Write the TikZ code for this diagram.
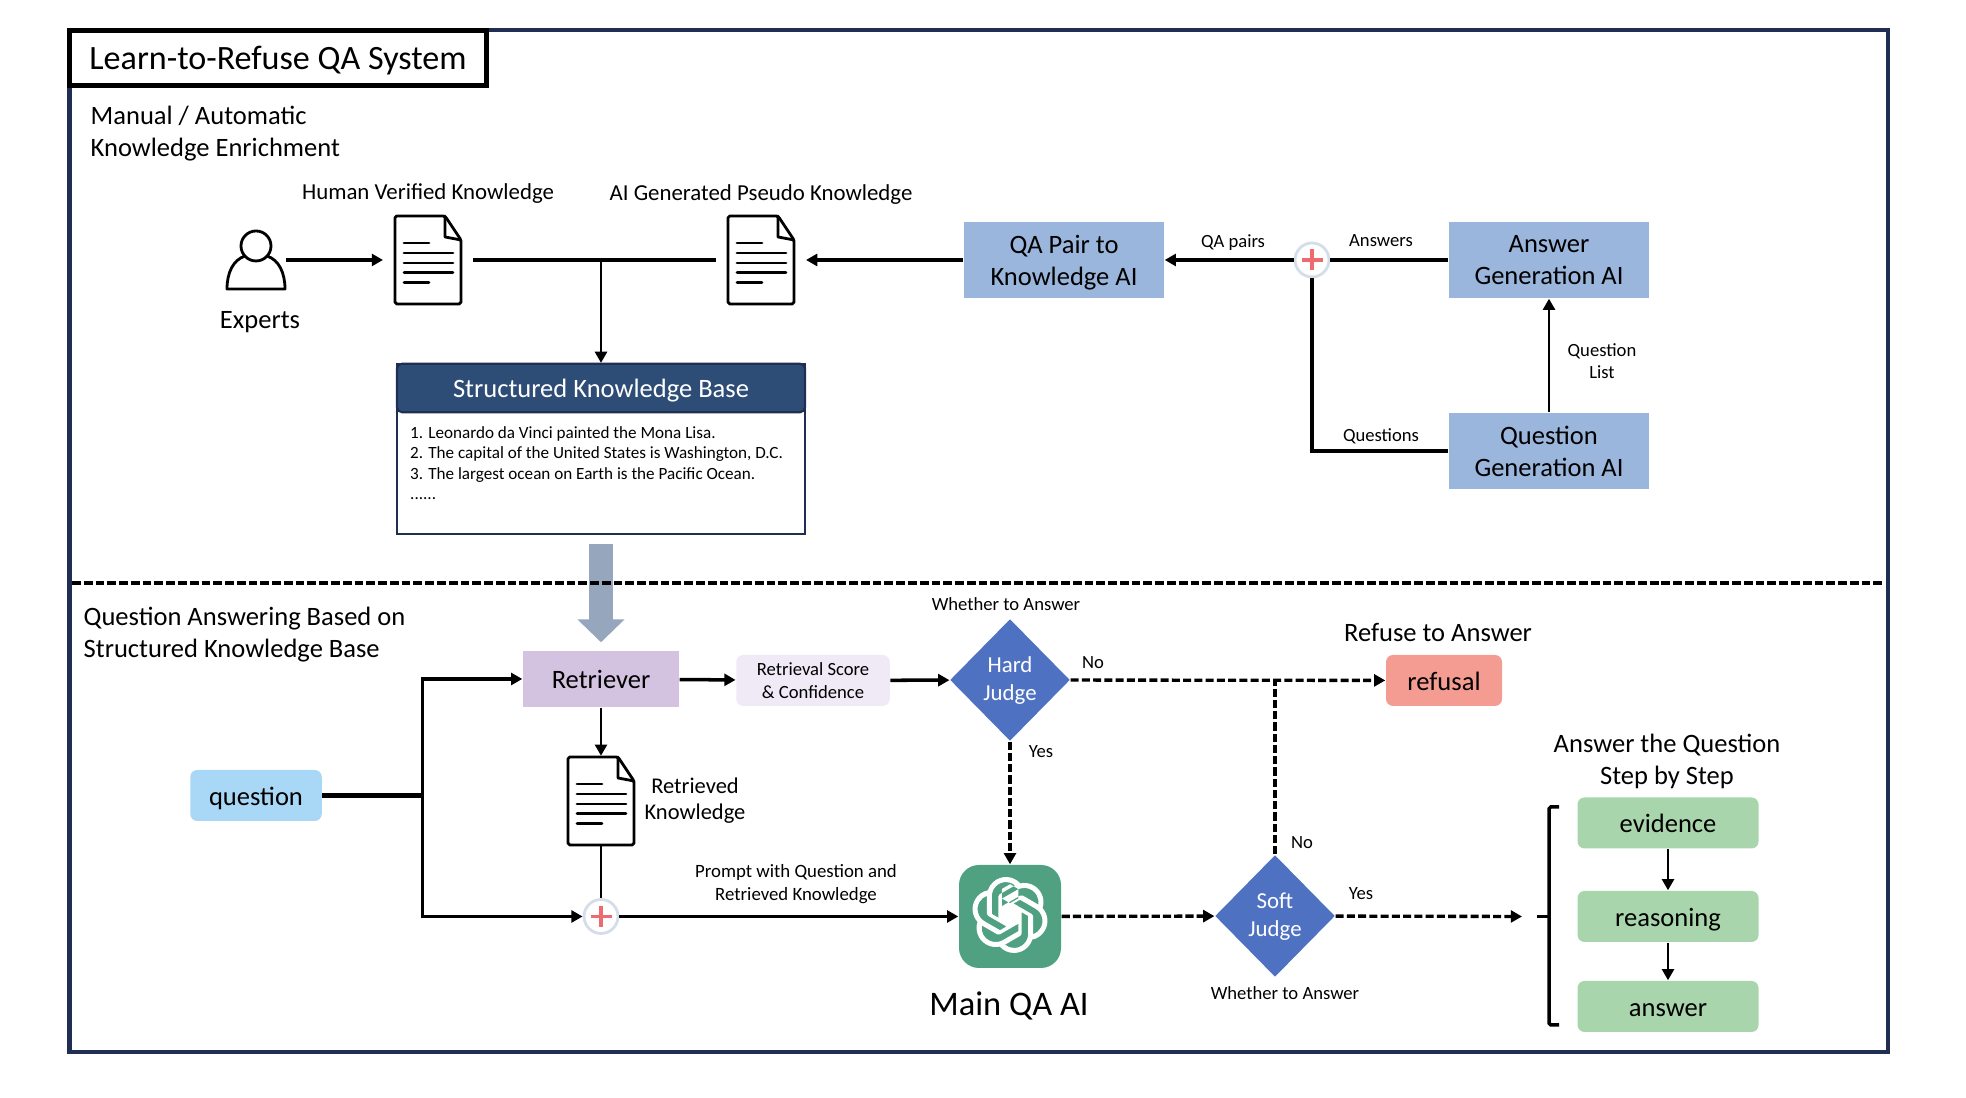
\documentclass[tikz,border=0pt]{standalone}
\usepackage{fontspec}
\setmainfont{Carlito}
\usetikzlibrary{arrows.meta, shapes.geometric, svg.path}
\definecolor{framenavy}{HTML}{1F2E52}
\definecolor{kbblue}{HTML}{2E4D76}
\definecolor{aiblue}{HTML}{9AB6DC}
\definecolor{judgeblue}{HTML}{4E71C2}
\definecolor{retrievepurple}{HTML}{D3C3E0}
\definecolor{scorepurple}{HTML}{EFEAF6}
\definecolor{refusered}{HTML}{F49C92}
\definecolor{stepgreen}{HTML}{A8D5AB}
\definecolor{questionblue}{HTML}{A9D7F6}
\definecolor{mainteal}{HTML}{4FA182}
\definecolor{plusred}{HTML}{EE6A6F}
\definecolor{plusrim}{HTML}{D5DEE8}
\definecolor{bigarrow}{HTML}{96A6BD}
\newcommand{\docicon}[2]{
    \node[docnode] (#1) at (#2) {};
    \begin{scope}[shift={(#2)}]
        \draw[docline, rounded corners=0.5pt, fill=white] (-0.33, -0.44) -- (-0.33, 0.44) -- (0.17, 0.44) -- (0.33, 0.2) -- (0.33, -0.44) -- cycle;
        \draw[docline] (0.17, 0.44) -- (0.17, 0.23) -- (0.33, 0.2);
        \draw[docline] (-0.24, 0.17) -- (0.01, 0.17);
        \draw[docline] (-0.24, 0.07) -- (0.25, 0.07);
        \draw[docline] (-0.24, -0.03) -- (0.25, -0.03);
        \draw[docline] (-0.24, -0.125) -- (0.25, -0.125);
        \draw[docline] (-0.24, -0.225) -- (0.01, -0.225);
    \end{scope}
}
\begin{document}
\begin{tikzpicture}
    \tikzstyle{bigtext} = [font=\fontsize{7.55}{9.1}\selectfont, align=center, inner sep=0pt]
    \tikzstyle{smalltext} = [font=\fontsize{5.3}{6.4}\selectfont, align=center, inner sep=0pt]
    \tikzstyle{midtext} = [font=\fontsize{6.5}{7.8}\selectfont, align=center, inner sep=0pt]
    \tikzstyle{oneline} = [text height=5.6pt, text depth=0pt]
    \tikzstyle{docnode} = [minimum width=0.66cm, minimum height=0.89cm, inner sep=0pt, outer xsep=0.12cm]
    \tikzstyle{docline} = [line width=0.8pt, line cap=round, line join=round]
    \tikzstyle{aibox} = [bigtext, text depth=-1pt, fill=aiblue, minimum width=2cm, minimum height=0.76cm]
    \tikzstyle{softbox} = [bigtext, rounded corners=0.07cm, minimum height=0.51cm]
    \tikzstyle{stepbox} = [softbox, oneline, fill=stepgreen, minimum width=1.81cm]
    \tikzstyle{judge} = [diamond, fill=judgeblue, text=white, midtext, text depth=0.7pt, minimum width=1.2cm, minimum height=1.22cm]
    \tikzstyle{plus} = [circle, draw=plusrim, fill=white, line width=0.8pt, minimum size=0.34cm, inner sep=0pt, path picture={
        \draw[plusred, line width=0.9pt] (path picture bounding box.center) +(-0.105, 0) -- +(0.105, 0) +(0, -0.105) -- +(0, 0.105);}]
    \tikzstyle{thinflow} = [line width=0.8pt, >={Triangle[length=3.2pt, width=3.4pt]}]
    \tikzstyle{midflow} = [line width=1pt, >={Triangle[length=3.2pt, width=3.4pt]}]
    \tikzstyle{thickflow} = [line width=1.4pt]
    \tikzstyle{dashflow} = [line width=0.95pt, dash pattern=on 2.3pt off 0.9pt, >={Triangle[length=3.2pt, width=3.4pt]}]
    \useasboundingbox (0, 0) rectangle (19.66, 10.98);
    \draw[framenavy, line width=1.25pt] (0.695, 0.46) rectangle (18.88, 10.68);
    \node[bigtext, draw=black, fill=white, line width=1.4pt, text depth=0pt, font=\fontsize{9.7}{11}\selectfont, minimum width=4.175cm, minimum height=0.555cm] (title) at (2.78, 10.4) {Learn-to-Refuse QA System};
    \node[bigtext, anchor=west, align=left] (enrichlabel) at (0.9, 9.645) {Manual / Automatic\\Knowledge Enrichment};
    \node[midtext] (humanlabel) at (4.28, 9.04) {Human Verified Knowledge};
    \node[midtext] (pseudolabel) at (7.61, 9.03) {AI Generated Pseudo Knowledge};
    \node[minimum size=0.58cm, inner sep=0pt] (expert) at (2.56, 8.38) {};
    \draw[docline] (2.56, 8.52) ellipse[x radius=0.15, y radius=0.15];
    \draw[docline] (2.67, 8.42) .. controls (2.79, 8.38) and (2.85, 8.25) .. (2.85, 8.09) -- (2.27, 8.09) .. controls (2.27, 8.25) and (2.33, 8.38) .. (2.45, 8.42);
    \node[bigtext] (expertlabel) at (2.6, 7.76) {Experts};
    \docicon{doca}{4.28, 8.38}
    \docicon{docb}{7.61, 8.38}
    \node[aibox] (qapair) at (10.64, 8.38) {QA Pair to\\Knowledge AI};
    \node[aibox] (answergen) at (15.49, 8.38) {Answer\\Generation AI};
    \node[aibox] (questiongen) at (15.49, 6.47) {Question\\Generation AI};
    \node[plus] (plusa) at (13.12, 8.38) {};
    \node[smalltext] (qapairlabel) at (12.33, 8.55) {QA pairs};
    \node[smalltext] (answerslabel) at (13.81, 8.57) {Answers};
    \node[smalltext] (questionslabel) at (13.81, 6.62) {Questions};
    \node[smalltext] (listlabel) at (16.02, 7.37) {Question\\List};
    \node[draw=framenavy, fill=white, line width=0.6pt, minimum width=4.08cm, minimum height=1.7cm, inner sep=0pt] (kb) at (6.01, 6.49) {};
    \node[bigtext, oneline, draw=framenavy, fill=kbblue, text=white, line width=0.6pt, rounded corners=0.05cm, minimum width=4.08cm, minimum height=0.485cm] (kbhead) at (6.01, 7.1) {Structured Knowledge Base};
    \node[font=\fontsize{4.87}{5.85}\selectfont, align=left, inner sep=0pt, anchor=west] (kbfacts) at (4.095, 6.35) {1. Leonardo da Vinci painted the Mona Lisa.\\2. The capital of the United States is Washington, D.C.\\3. The largest ocean on Earth is the Pacific Ocean.\\......};
    \coordinate (splitl) at (0.72, 5.15);
    \coordinate (splitr) at (18.85, 5.15);
    \node[bigtext, anchor=west, align=left] (answeringlabel) at (0.83, 4.635) {Question Answering Based on\\Structured Knowledge Base};
    \node[bigtext, oneline, fill=retrievepurple, minimum width=1.56cm, minimum height=0.56cm] (retriever) at (6.01, 4.19) {Retriever};
    \node[softbox, smalltext, fill=scorepurple, minimum width=1.535cm] (score) at (8.13, 4.175) {Retrieval Score\\\& Confidence};
    \node[judge] (hard) at (10.1, 4.18) {Hard\\Judge};
    \node[smalltext] (hardlabel) at (10.06, 4.94) {Whether to Answer};
    \node[smalltext] (hardno) at (10.93, 4.35) {No};
    \node[smalltext] (hardyes) at (10.41, 3.46) {Yes};
    \node[bigtext] (refuselabel) at (14.38, 4.655) {Refuse to Answer};
    \node[softbox, oneline, fill=refusered, minimum width=1.16cm] (refusal) at (14.44, 4.175) {refusal};
    \node[softbox, oneline, fill=questionblue, minimum width=1.315cm] (question) at (2.56, 3.025) {question};
    \coordinate (trunk) at (4.225, 3.025);
    \docicon{docc}{6.01, 2.97}
    \node[midtext, font=\fontsize{6.4}{7.5}\selectfont] (retrievedlabel) at (6.95, 2.975) {Retrieved\\Knowledge};
    \node[smalltext, font=\fontsize{5.35}{6.4}\selectfont] (promptlabel) at (7.96, 2.14) {Prompt with Question and\\Retrieved Knowledge};
    \node[plus] (plusb) at (6.01, 1.815) {};
    \node[fill=mainteal, rounded corners=0.2cm, minimum width=1.02cm, minimum height=1.03cm, inner sep=0pt] (main) at (10.1, 1.815) {};
    \begin{scope}[shift={(10.1, 1.83)}, xscale=0.9, yscale=-0.9, shift={(-12pt, -12pt)}]
        \fill[white, even odd rule] svg {M 22.2819 9.8211 a 5.9847 5.9847 0 0 0 -0.5157 -4.9108 a 6.0462 6.0462 0 0 0 -6.5098 -2.9 A 6.0651 6.0651 0 0 0 4.9807 4.1818 a 5.9847 5.9847 0 0 0 -3.9977 2.9 a 6.0462 6.0462 0 0 0 0.7427 7.0966 a 5.98 5.98 0 0 0 0.511 4.9107 a 6.051 6.051 0 0 0 6.5146 2.9001 A 5.9847 5.9847 0 0 0 13.2599 24 a 6.0557 6.0557 0 0 0 5.7718 -4.2058 a 5.9894 5.9894 0 0 0 3.9977 -2.9001 a 6.0557 6.0557 0 0 0 -0.7475 -7.0729 z
        m -9.022 12.6081 a 4.4755 4.4755 0 0 1 -2.8764 -1.0408 l 0.1419 -0.0804 l 4.7783 -2.7582 a 0.7948 0.7948 0 0 0 0.3927 -0.6813 v -6.7369 l 2.02 1.1686 a 0.071 0.071 0 0 1 0.038 0.052 v 5.5826 a 4.504 4.504 0 0 1 -4.4945 4.4944 z
        m -9.6607 -4.1254 a 4.4708 4.4708 0 0 1 -0.5346 -3.0137 l 0.142 0.0852 l 4.783 2.7582 a 0.7712 0.7712 0 0 0 0.7806 0 l 5.8428 -3.3685 v 2.3324 a 0.0804 0.0804 0 0 1 -0.0332 0.0615 L 9.74 19.9502 a 4.4992 4.4992 0 0 1 -6.1408 -1.6464 z
        M 2.3408 7.8956 a 4.485 4.485 0 0 1 2.3655 -1.9728 V 11.6 a 0.7664 0.7664 0 0 0 0.3879 0.6765 l 5.8144 3.3543 l -2.0201 1.1685 a 0.0757 0.0757 0 0 1 -0.071 0 l -4.8303 -2.7865 A 4.504 4.504 0 0 1 2.3408 7.872 z
        m 16.5963 3.8558 L 13.1038 8.364 L 15.1192 7.2 a 0.0757 0.0757 0 0 1 0.071 0 l 4.8303 2.7913 a 4.4944 4.4944 0 0 1 -0.6765 8.1042 v -5.6772 a 0.79 0.79 0 0 0 -0.407 -0.667 z
        m 2.0107 -3.0231 l -0.142 -0.0852 l -4.7735 -2.7818 a 0.7759 0.7759 0 0 0 -0.7854 0 L 9.409 9.2297 V 6.8974 a 0.0662 0.0662 0 0 1 0.0284 -0.0615 l 4.8303 -2.7866 a 4.4992 4.4992 0 0 1 6.6802 4.66 z
        M 8.3065 12.863 l -2.02 -1.1638 a 0.0804 0.0804 0 0 1 -0.038 -0.0567 V 6.0742 a 4.4992 4.4992 0 0 1 7.3757 -3.4537 l -0.142 0.0805 L 8.704 5.459 a 0.7948 0.7948 0 0 0 -0.3927 0.6813 z
        m 1.0976 -2.3654 l 2.602 -1.4998 l 2.6069 1.4998 v 2.9994 l -2.5974 1.4997 l -2.6067 -1.4997 Z};
    \end{scope}
    \node[font=\fontsize{9.8}{11}\selectfont, inner sep=0pt] (mainlabel) at (10.09, 0.92) {Main QA AI};
    \node[judge] (soft) at (12.75, 1.82) {Soft\\Judge};
    \node[smalltext] (softlabel) at (12.85, 1.05) {Whether to Answer};
    \node[smalltext] (softno) at (13.02, 2.55) {No};
    \node[smalltext] (softyes) at (13.61, 2.04) {Yes};
    \node[bigtext] (steplabel) at (16.67, 3.365) {Answer the Question\\Step by Step};
    \node[stepbox] (evidence) at (16.68, 2.75) {evidence};
    \node[stepbox] (reasoning) at (16.68, 1.815) {reasoning};
    \node[stepbox] (answer) at (16.68, 0.915) {answer};
    \coordinate (steptip) at (15.22, 1.815);
    \draw[line width=1pt, rounded corners=0.5pt] (15.59, 2.91) -- (15.49, 2.91) -- (15.49, 0.73) -- (15.59, 0.73);
    \draw[line width=1pt] (15.49, 1.815) -- (15.37, 1.815);
    \draw[midflow, ->] (expert) -- (doca);
    \draw[thickflow] (doca) -- (docb);
    \draw[thinflow, ->] (kb.north |- doca) -- (kb.north);
    \draw[midflow, ->] (qapair) -- (docb);
    \draw[midflow] (answergen) -- (plusa);
    \draw[midflow, ->] (plusa) -- (qapair);
    \draw[thickflow] (questiongen) -| (plusa);
    \draw[thinflow, ->] (questiongen) -- (answergen);
    \draw[bigarrow, line width=6.7pt, shorten <=0.09cm, shorten >=0.08cm, -{Triangle[length=6.5pt, width=13pt]}] (kb) -- (retriever);
    \draw[line width=1pt, dash pattern=on 2.5pt off 0.85pt] (splitl) -- (splitr);
    \draw[thickflow] (question) -- (trunk);
    \draw[midflow, ->] (trunk) |- (retriever);
    \draw[midflow, ->] (trunk) |- (plusb);
    \draw[midflow, ->] (retriever) -- (score);
    \draw[midflow, ->] (score) -- (hard);
    \draw[thinflow, ->] (retriever) -- (docc);
    \draw[thinflow] (docc) -- (plusb);
    \draw[midflow, ->] (plusb) -- (main);
    \draw[dashflow, ->] (hard) -- (refusal);
    \draw[dashflow, ->] (hard) -- (main);
    \draw[dashflow, ->] (main) -- (soft);
    \draw[dashflow] (soft) -- (soft |- refusal);
    \draw[dashflow, ->] (soft) -- (steptip);
    \draw[thinflow, ->] (evidence) -- (reasoning);
    \draw[thinflow, ->] (reasoning) -- (answer);
\end{tikzpicture}
\end{document}
